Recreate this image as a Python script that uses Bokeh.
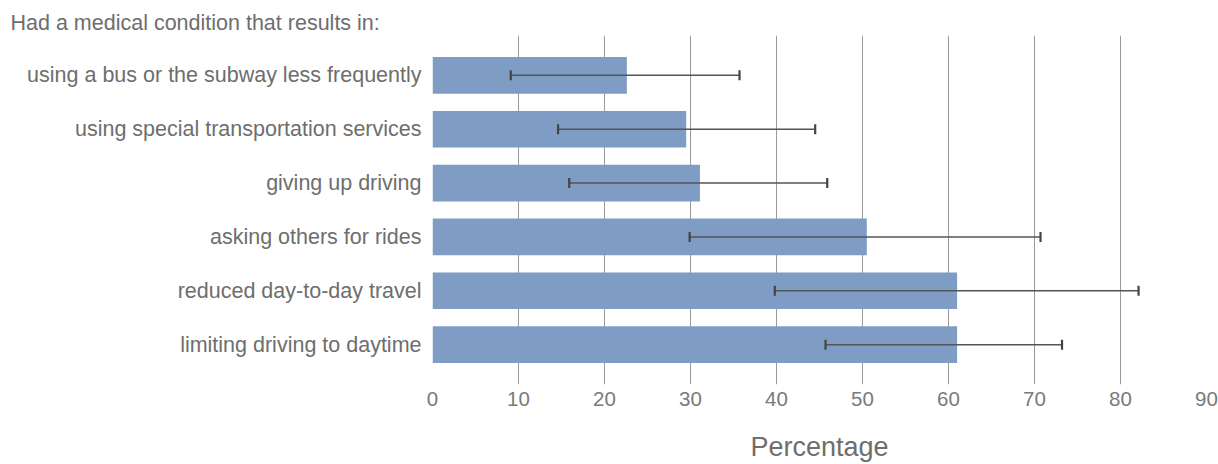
from bokeh.plotting import figure
from bokeh.models import Range1d, ColumnDataSource, Whisker, TeeHead, Title, FixedTicker
from bokeh.embed import file_html
from bokeh.resources import INLINE

categories = [
    "using a bus or the subway less frequently",
    "using special transportation services",
    "giving up driving",
    "asking others for rides",
    "reduced day-to-day travel",
    "limiting driving to daytime",
]
values = [22.6, 29.5, 31.1, 50.5, 61.0, 61.0]
lower = [9.1, 14.6, 15.9, 29.9, 39.8, 45.7]
upper = [35.7, 44.5, 45.9, 70.7, 82.1, 73.2]
x_ticks = [0, 10, 20, 30, 40, 50, 60, 70, 80, 90]

FONT = "Liberation Sans"
TEXT = "#6e6e6e"

pos = list(range(len(categories)))
src = ColumnDataSource(dict(y=pos, v=values, lo=lower, hi=upper))

p = figure(width=1218, height=464, output_backend="svg", toolbar_location=None,
           x_range=Range1d(0, 90), y_range=Range1d(5.74, -0.74),
           min_border_left=432, min_border_right=12, min_border_top=35,
           min_border_bottom=80, outline_line_color=None, tools="")

p.title = Title(text="Had a medical condition that results in:", align="left",
                offset=-422, standoff=1, text_font=FONT, text_font_size="21.5px",
                text_font_style="normal", text_color=TEXT)

p.hbar(y="y", right="v", left=0, height=0.68, source=src,
       fill_color="#7f9dc4", line_color=None)

w = Whisker(source=src, base="y", lower="lo", upper="hi", dimension="width",
            line_color="#555555", line_width=1.5, level="overlay",
            lower_head=TeeHead(size=10, line_color="#444444", line_width=2.2),
            upper_head=TeeHead(size=10, line_color="#444444", line_width=2.2))
p.add_layout(w)

p.xaxis.ticker = FixedTicker(ticks=x_ticks)
p.xaxis.axis_line_color = None
p.xaxis.major_tick_line_color = None
p.xaxis.minor_tick_line_color = None
p.xaxis.major_tick_out = 0
p.xaxis.major_label_standoff = 7
p.xaxis.major_label_text_font = FONT
p.xaxis.major_label_text_font_size = "20.5px"
p.xaxis.major_label_text_color = "#7a7a7a"
p.xaxis.axis_label = "Percentage"
p.xaxis.axis_label_text_font = FONT
p.xaxis.axis_label_text_font_size = "27px"
p.xaxis.axis_label_text_font_style = "normal"
p.xaxis.axis_label_text_color = TEXT
p.xaxis.axis_label_standoff = 23

p.yaxis.ticker = FixedTicker(ticks=pos)
p.yaxis.major_label_overrides = {i: c for i, c in zip(pos, categories)}
p.yaxis.axis_line_color = None
p.yaxis.major_tick_line_color = None
p.yaxis.minor_tick_line_color = None
p.yaxis.major_tick_out = 0
p.yaxis.major_label_standoff = 11
p.yaxis.major_label_text_font = FONT
p.yaxis.major_label_text_font_size = "21.5px"
p.yaxis.major_label_text_color = TEXT

p.xgrid.grid_line_color = "#9a9a9a"
p.xgrid.grid_line_width = 1
p.ygrid.grid_line_color = None

open("out.html", "w").write(file_html(p, INLINE))
